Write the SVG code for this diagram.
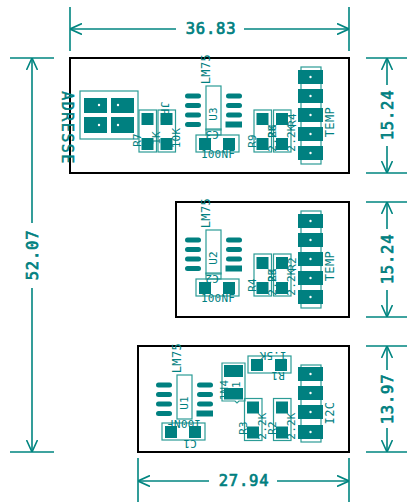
<svg xmlns="http://www.w3.org/2000/svg" width="407" height="502" viewBox="0 0 407 502">
<style>
.board{fill:none;stroke:#000;stroke-width:2}
.dim{fill:none;stroke:#008580;stroke-width:1.6}
.f{fill:none;stroke:#2c9c96;stroke-width:1.2}
.p{fill:#008080}
.h{fill:#fff}
text{font-family:"DejaVu Sans Mono","Liberation Mono",monospace;fill:#008080}
.d{font-size:15.500px;letter-spacing:.8px;text-anchor:middle;dominant-baseline:central;stroke:#008080;stroke-width:.7}
.s{font-size:11px;letter-spacing:.2px;text-anchor:middle;dominant-baseline:central}
.t{font-size:12px;letter-spacing:.4px;text-anchor:middle;dominant-baseline:central}
.a{font-size:15px;letter-spacing:1.500px;text-anchor:middle;dominant-baseline:central;stroke:#008080;stroke-width:.5}
</style>
<defs>
<g id="pin"><rect x="-12.500" y="-7" width="25" height="14" class="p"/><circle r="1.200" class="h"/></g>
<g id="header5">
<rect x="301" y="67" width="20" height="97" class="f"/>
<use href="#pin" x="310.500" y="77"/><use href="#pin" x="310.500" y="96"/><use href="#pin" x="310.500" y="115"/><use href="#pin" x="310.500" y="134"/><use href="#pin" x="310.500" y="153"/>
</g>
<g id="res"><rect x="0" y="0" width="17.500" height="42" class="f"/><rect x="2.500" y="3" width="12" height="12" class="p"/><rect x="2.500" y="28" width="12" height="12" class="p"/></g>
<g id="cap"><rect x="0" y="0" width="43" height="17" class="f"/><rect x="3" y="3" width="12" height="12" class="p"/><rect x="27" y="3" width="12" height="12" class="p"/></g>
<g id="soic">
<rect x="21" y="0" width="15" height="44" class="f"/>
<rect x="0" y="7.500" width="16" height="5" rx="2.500" class="p"/><rect x="0" y="17" width="16" height="5" rx="2.500" class="p"/><rect x="0" y="26.500" width="16" height="5" rx="2.500" class="p"/><rect x="0" y="36" width="16" height="5" rx="2.500" class="p"/>
<rect x="41" y="7.500" width="16" height="5" rx="2.500" class="p"/><rect x="41" y="17" width="16" height="5" rx="2.500" class="p"/><rect x="41" y="26.500" width="16" height="5" rx="2.500" class="p"/><rect x="40.500" y="35.500" width="16.500" height="6" class="p"/>
</g>
<marker id="arr" viewBox="0 0 12 12" refX="12" refY="6" markerWidth="12" markerHeight="12" markerUnits="userSpaceOnUse" orient="auto-start-reverse"><path d="M0 0.500L12 6L0 11.500" fill="none" stroke="#008580" stroke-width="1.600"/></marker>
</defs>
<g id="connectors">
<path class="dim" d="M70 7V51M349 7V51M366 58H407M366 173H407M366 202H407M366 317H407M366 346H407M366 452H407M10 58H54M10 452H54M138 458V502M349 458V502"/>
<path class="dim" marker-start="url(#arr)" d="M70 29H176"/><path class="dim" marker-end="url(#arr)" d="M244 29H349"/>
<path class="dim" marker-start="url(#arr)" d="M138 481H209"/><path class="dim" marker-end="url(#arr)" d="M277 481H349"/>
<path class="dim" marker-start="url(#arr)" d="M32 58V223"/><path class="dim" marker-end="url(#arr)" d="M32 288V452"/>
<path class="dim" marker-start="url(#arr)" d="M387 58V85"/><path class="dim" marker-end="url(#arr)" d="M387 146V173"/>
<path class="dim" marker-start="url(#arr)" d="M387 202V229"/><path class="dim" marker-end="url(#arr)" d="M387 290V317"/>
<path class="dim" marker-start="url(#arr)" d="M387 346V370"/><path class="dim" marker-end="url(#arr)" d="M387 428V452"/>
</g>
<g id="dimensions">
<text class="d" x="211" y="29">36.83</text>
<text class="d" x="244" y="481">27.94</text>
<text class="d" transform="translate(33 255) rotate(-90)">52.07</text>
<text class="d" transform="translate(388 115) rotate(-90)">15.24</text>
<text class="d" transform="translate(388 259) rotate(-90)">15.24</text>
<text class="d" transform="translate(388 399) rotate(-90)">13.97</text>
</g>
<g id="board1">
<rect class="board" x="70" y="58" width="279" height="115"/>
<rect class="f" x="80" y="91" width="58" height="48"/>
<rect class="p" x="84" y="98" width="23" height="15"/><rect class="p" x="111" y="98" width="23" height="15"/><rect class="p" x="84" y="117" width="23" height="16"/><rect class="p" x="111" y="117" width="23" height="16"/>
<circle class="h" cx="99" cy="105" r="1.200"/><circle class="h" cx="118" cy="105" r="1.200"/><circle class="h" cx="99" cy="125" r="1.200"/><circle class="h" cx="118" cy="125" r="1.200"/>
<text class="a" transform="translate(67 128) rotate(90)">ADRESSE</text>
<use href="#res" x="139" y="110"/><use href="#res" x="158" y="110"/>
<text class="s" transform="translate(164 112) rotate(90)">JP1</text>
<text class="s" transform="translate(137 140) rotate(-90)">R7</text>
<text class="s" transform="translate(156 138) rotate(-90)">1K</text>
<text class="s" transform="translate(176 138) rotate(-90)">10K</text>
<use href="#soic" x="185" y="86"/>
<text class="t" transform="translate(206 69) rotate(-90)">LM75</text>
<text class="s" transform="translate(213 114) rotate(-90)">U3</text>
<rect class="f" x="206" y="129" width="15" height="6"/>
<use href="#cap" x="196" y="135"/>
<text class="s" transform="translate(212 134) rotate(180)">C3</text>
<text class="s" x="218" y="154">100NF</text>
<use href="#res" x="254" y="110"/><use href="#res" x="273.500" y="110"/>
<text class="s" transform="translate(252 141) rotate(-90)">R9</text>
<text class="s" transform="translate(272 138) rotate(-90)">2.2K</text>
<text class="s" transform="translate(272 131) rotate(-90)">R8</text>
<text class="s" transform="translate(291 138) rotate(-90)">2.2K</text>
<text class="s" transform="translate(292 120) rotate(-90)">R4</text>
<use href="#header5"/>
<text class="t" transform="translate(330 122) rotate(-90)">TEMP</text>
</g>
<g id="board2">
<rect class="board" x="176" y="202" width="173" height="115"/>
<use href="#soic" x="185" y="230"/>
<text class="t" transform="translate(206 213) rotate(-90)">LM75</text>
<text class="s" transform="translate(213 258) rotate(-90)">U2</text>
<rect class="f" x="206" y="273" width="15" height="6"/>
<use href="#cap" x="196" y="279"/>
<text class="s" transform="translate(212 278) rotate(180)">C2</text>
<text class="s" x="218" y="298">100NF</text>
<use href="#res" x="254" y="254"/><use href="#res" x="273.500" y="254"/>
<text class="s" transform="translate(252 285) rotate(-90)">R4</text>
<text class="s" transform="translate(272 282) rotate(-90)">2.2K</text>
<text class="s" transform="translate(272 275) rotate(-90)">R3</text>
<text class="s" transform="translate(291 282) rotate(-90)">2.2K</text>
<text class="s" transform="translate(292 264) rotate(-90)">R2</text>
<use href="#header5" y="144"/>
<text class="t" transform="translate(330 266) rotate(-90)">TEMP</text>
</g>
<g id="board3">
<rect class="board" x="138" y="346" width="211" height="106"/>
<use href="#soic" x="156" y="375"/>
<text class="t" transform="translate(177 358) rotate(-90)">LM75</text>
<text class="s" transform="translate(184 403) rotate(-90)">U1</text>
<use href="#cap" x="162" y="423"/>
<text class="s" transform="translate(184 423) rotate(180)">100NF</text>
<text class="s" transform="translate(190 443) rotate(180)">C1</text>
<path class="f" d="M222 363H245V401H239L237 403L235 401H222Z"/>
<rect class="p" x="224" y="365" width="19" height="12"/><rect class="p" x="224" y="388" width="19" height="11.500"/>
<text class="s" transform="translate(224 390) rotate(-90)">1N4</text>
<text class="s" transform="translate(236 388) rotate(-90)">D1</text>
<use href="#cap" x="248" y="356"/>
<text class="s" transform="translate(273 355) rotate(180)">1.5K</text>
<text class="s" transform="translate(278 375) rotate(180)">R1</text>
<use href="#res" x="244.500" y="398.500"/><use href="#res" x="273.500" y="398.500"/>
<text class="s" transform="translate(243 428) rotate(-90)">R3</text>
<text class="s" transform="translate(262 426) rotate(-90)">2.2K</text>
<text class="s" transform="translate(272 428) rotate(-90)">R2</text>
<text class="s" transform="translate(291 426) rotate(-90)">2.2K</text>
<rect class="f" x="301" y="365" width="20" height="77"/>
<use href="#pin" x="310.500" y="374"/><use href="#pin" x="310.500" y="393"/><use href="#pin" x="310.500" y="412"/><use href="#pin" x="310.500" y="432"/>
<text class="t" transform="translate(330 413) rotate(-90)">I2C</text>
</g>
</svg>
